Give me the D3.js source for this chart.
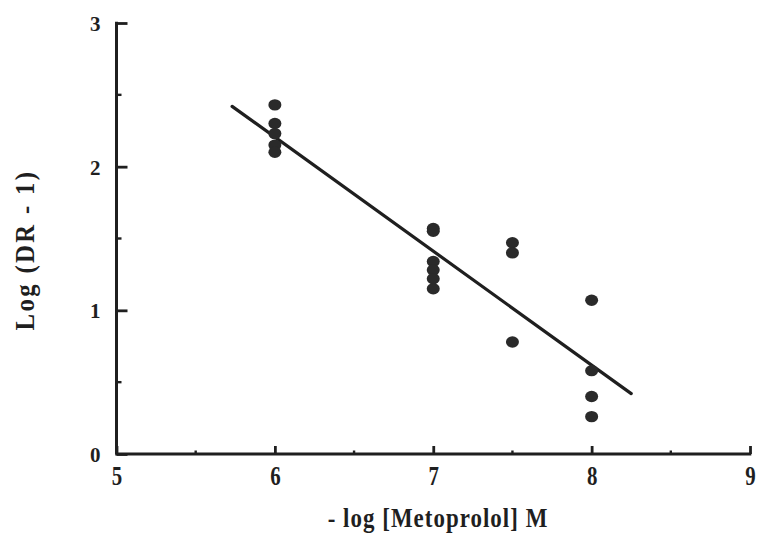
<!DOCTYPE html>
<html><head><meta charset="utf-8">
<script src="https://cdn.jsdelivr.net/npm/d3@7"></script>
<style>body{margin:0;background:#fff}svg{display:block}</style>
</head><body>
<svg id="c" width="757" height="536"></svg>
<script>
// Data
const xDose = [6, 6, 6, 6, 6, 7, 7, 7, 7, 7, 7, 7.5, 7.5, 7.5, 8, 8, 8, 8];
const yLogDR = [2.43, 2.30, 2.23, 2.15, 2.10, 1.57, 1.55, 1.34, 1.28, 1.22, 1.15, 1.47, 1.40, 0.78, 1.07, 0.58, 0.40, 0.26];
const fitX = [5.73, 8.25];
const fitY = [2.42, 0.42];
const xTicks = [5, 6, 7, 8, 9];
const yTicks = [0, 1, 2, 3];
const xMinor = [5.5, 6.5, 7.5, 8.5];
const yMinor = [0.5, 1.5, 2.5];

const svg = d3.select("#c");
const x = d3.scaleLinear().domain([5, 9]).range([116.5, 750]);
const y = d3.scaleLinear().domain([0, 3]).range([454, 23]);
const ink = "#1f1f1f";
const font = "'Liberation Serif', 'Times New Roman', serif";

// axes
const xAxis = d3.axisBottom(x).tickValues(xTicks).tickSize(-8).tickPadding(0).tickFormat(d3.format("d"));
const gx = svg.append("g").attr("transform", `translate(0,${y(0)})`).call(xAxis);
const yAxis = d3.axisLeft(y).tickValues(yTicks).tickSize(-11).tickPadding(16).tickFormat(d3.format("d"));
const gy = svg.append("g").attr("transform", `translate(${x(5)},0)`).call(yAxis);
[gx, gy].forEach(g => {
  g.select(".domain").remove();
  g.selectAll(".tick line").attr("stroke", ink).attr("stroke-width", 2.8);
  g.selectAll(".tick text").attr("fill", ink).attr("font-family", font).attr("font-weight", "bold").attr("font-size", 22);
});
gx.selectAll(".tick text").attr("y", null).attr("dy", null)
  .attr("transform", "translate(0,31) scale(0.95,1.25)");
gy.selectAll(".tick text").attr("dy", "0.36em").attr("font-size", 21);
svg.append("line").attr("x1", x(5) - 1.3).attr("x2", x(9) + 1.3).attr("y1", y(0)).attr("y2", y(0)).attr("stroke", ink).attr("stroke-width", 3);
svg.append("line").attr("x1", x(5)).attr("x2", x(5)).attr("y1", y(0)).attr("y2", y(3) - 1.3).attr("stroke", ink).attr("stroke-width", 3);

// minor ticks
svg.append("g").selectAll("line").data(xMinor).join("line")
  .attr("x1", d => x(d)).attr("x2", d => x(d)).attr("y1", y(0)).attr("y2", y(0) - 3.5)
  .attr("stroke", ink).attr("stroke-width", 2.4);
svg.append("g").selectAll("line").data(yMinor).join("line")
  .attr("x1", x(5)).attr("x2", x(5) + 5).attr("y1", d => y(d)).attr("y2", d => y(d))
  .attr("stroke", ink).attr("stroke-width", 2.4);

// fit line
svg.append("line")
  .attr("x1", x(fitX[0])).attr("y1", y(fitY[0])).attr("x2", x(fitX[1])).attr("y2", y(fitY[1]))
  .attr("stroke", ink).attr("stroke-width", 3.2).attr("stroke-linecap", "round");

// points
svg.append("g").selectAll("ellipse").data(xDose.map((d, i) => [d, yLogDR[i]])).join("ellipse")
  .attr("cx", d => x(d[0])).attr("cy", d => y(d[1])).attr("rx", 6.5).attr("ry", 5.7)
  .attr("fill", "#2a2a2a");

// titles
svg.append("text").attr("transform", "translate(438,527) scale(0.85,1.05)").attr("text-anchor", "middle")
  .attr("font-family", font).attr("font-weight", "bold").attr("font-size", 27).attr("letter-spacing", 1.2)
  .attr("fill", ink).text("- log [Metoprolol] M");
svg.append("text").attr("transform", "translate(34,250) rotate(-90) scale(0.95,1.05)").attr("text-anchor", "middle")
  .attr("font-family", font).attr("font-weight", "bold").attr("font-size", 26).attr("letter-spacing", 2.5)
  .attr("fill", ink).text("Log (DR - 1)");
</script>
</body></html>
